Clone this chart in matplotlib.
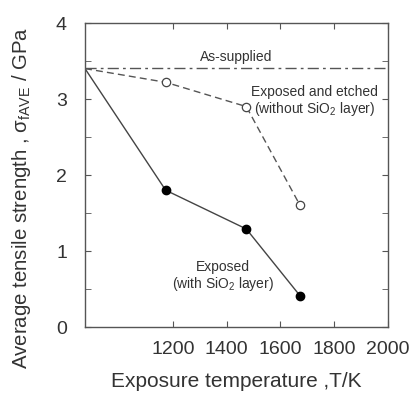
import matplotlib
matplotlib.use("Agg")
import matplotlib.pyplot as plt
from matplotlib.ticker import MultipleLocator

plt.rcParams['font.family'] = ['Liberation Sans', 'DejaVu Sans']
plt.rcParams['mathtext.fontset'] = 'custom'
plt.rcParams['mathtext.rm'] = 'Liberation Sans'
plt.rcParams['mathtext.it'] = 'Liberation Sans:italic'

temp_exposed = [873, 1173, 1473, 1673]
strength_exposed = [3.40, 1.80, 1.29, 0.41]
temp_etched = [873, 1173, 1473, 1673]
strength_etched = [3.40, 3.22, 2.90, 1.60]
as_supplied = 3.41
xticks = [1200, 1400, 1600, 1800, 2000]
yticks = [0, 1, 2, 3, 4]

txt = '#333333'
fig = plt.figure(figsize=(4.14, 3.94), dpi=100)
ax = fig.add_axes([85/414, 1 - 327/394, 303/414, 304/394])

ax.axhline(as_supplied, color='#555555', lw=1.0, dashes=(8, 3, 2, 3))
ax.plot(temp_etched, strength_etched, color='#555555', lw=1.0, ls=(0, (5, 3)))
ax.plot(temp_etched[1:], strength_etched[1:], ls='none', marker='o', ms=6,
        mfc='white', mec='#444444', mew=0.9)
ax.plot(temp_exposed, strength_exposed, color='#444444', lw=1.0)
ax.plot(temp_exposed[1:], strength_exposed[1:], ls='none', marker='o', ms=6,
        mfc='black', mec='black')

ax.set_xlim(873, 2000)
ax.set_ylim(0, 4)
ax.set_xticks(xticks)
ax.set_xticklabels([str(t) for t in xticks])
ax.set_yticks(yticks)
ax.yaxis.set_minor_locator(MultipleLocator(0.5))
ax.tick_params(direction='in', top=True, right=True, which='both', length=4,
               color='#555555', labelsize=14, labelcolor=txt)
ax.tick_params(axis='x', pad=10)
ax.tick_params(axis='y', pad=13)
for s in ax.spines.values():
    s.set_color('#555555')
    s.set_linewidth(1.0)

ax.text(1301, 3.55, 'As-supplied', color=txt, fontsize=10, ha='left', va='center')
ax.text(1728, 2.97, 'Exposed and etched\n(without SiO$_2$ layer)', color=txt,
        fontsize=10, ha='center', va='center', linespacing=1.1)
ax.text(1386, 0.66, 'Exposed\n(with SiO$_2$ layer)', color=txt,
        fontsize=10, ha='center', va='center', linespacing=1.1)

ax.set_xlabel('Exposure temperature ,T/K', fontsize=15, color=txt, labelpad=10)
ax.set_ylabel('Average tensile strength , σ$_{\\mathrm{fAVE}}$ / GPa',
              fontsize=14.7, color=txt)
ax.yaxis.set_label_coords(-0.17, 0.425)

fig.savefig('out.png', dpi=100)
